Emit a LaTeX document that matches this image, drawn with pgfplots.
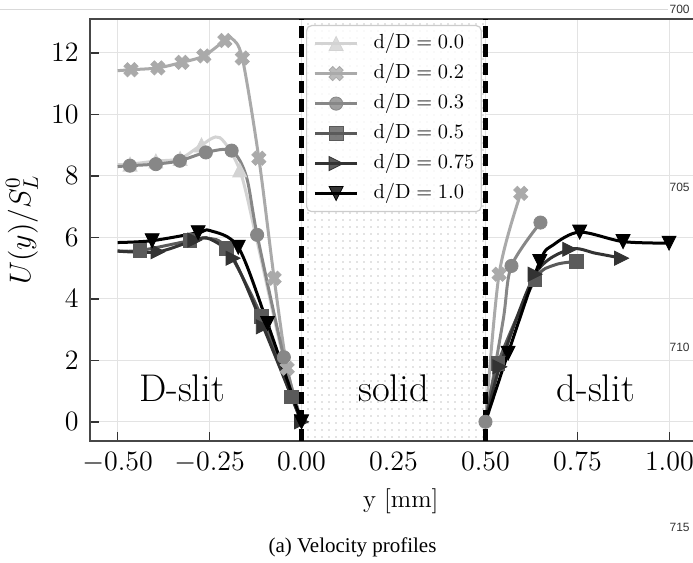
\RequirePackage{fix-cm}
\documentclass[border=0pt]{standalone}
\usepackage{fontspec}
\usepackage{pgfplots}
\pgfplotsset{compat=1.18}
\usetikzlibrary{patterns.meta}
\newfontfamily\libsans{Liberation Sans}
\newfontfamily\libserif{Liberation Serif}

\definecolor{c0}{HTML}{D3D3D3}
\definecolor{c1}{HTML}{AAAAAA}
\definecolor{c2}{HTML}{878787}
\definecolor{c3}{HTML}{5A5A5A}
\definecolor{c4}{HTML}{333333}
\definecolor{c5}{HTML}{000000}

\tikzdeclarepattern{
  name=mydots,
  type=uncolored,
  bounding box={(-1.75pt,-1.75pt) and (1.75pt,1.75pt)},
  tile size={(3.5pt,3.5pt)},
  code={\fill (0pt,0pt) circle (0.4pt);}
}

\pgfdeclareplotmark{mtri}{%
  \pgfpathmoveto{\pgfqpoint{0pt}{\pgfplotmarksize}}%
  \pgfpathlineto{\pgfqpoint{-\pgfplotmarksize}{-\pgfplotmarksize}}%
  \pgfpathlineto{\pgfqpoint{\pgfplotmarksize}{-\pgfplotmarksize}}%
  \pgfpathclose
  \pgfusepathqfillstroke}

\pgfdeclareplotmark{Xf}{%
  \pgfpathmoveto{\pgfqpoint{-0.955\pgfplotmarksize}{0.46\pgfplotmarksize}}%
  \pgfpathlineto{\pgfqpoint{-0.46\pgfplotmarksize}{0.955\pgfplotmarksize}}%
  \pgfpathlineto{\pgfqpoint{0pt}{0.495\pgfplotmarksize}}%
  \pgfpathlineto{\pgfqpoint{0.46\pgfplotmarksize}{0.955\pgfplotmarksize}}%
  \pgfpathlineto{\pgfqpoint{0.955\pgfplotmarksize}{0.46\pgfplotmarksize}}%
  \pgfpathlineto{\pgfqpoint{0.495\pgfplotmarksize}{0pt}}%
  \pgfpathlineto{\pgfqpoint{0.955\pgfplotmarksize}{-0.46\pgfplotmarksize}}%
  \pgfpathlineto{\pgfqpoint{0.46\pgfplotmarksize}{-0.955\pgfplotmarksize}}%
  \pgfpathlineto{\pgfqpoint{0pt}{-0.495\pgfplotmarksize}}%
  \pgfpathlineto{\pgfqpoint{-0.46\pgfplotmarksize}{-0.955\pgfplotmarksize}}%
  \pgfpathlineto{\pgfqpoint{-0.955\pgfplotmarksize}{-0.46\pgfplotmarksize}}%
  \pgfpathlineto{\pgfqpoint{-0.495\pgfplotmarksize}{0pt}}%
  \pgfpathclose
  \pgfusepathqfillstroke}

\pgfplotsset{
  ln/.style={#1, line width=1.5pt, smooth, tension=0.5, forget plot},
  mk/.style={#1, only marks, forget plot},
  m0/.style={mark=mtri, mark size=3.5pt, mark options={solid, fill=c0, draw=c0, line width=0.4pt}},
  m1/.style={mark=Xf, mark size=3.7pt, mark options={solid, fill=c1, draw=c1, line width=0.4pt}},
  m2/.style={mark=*, mark size=3.3pt, mark options={solid, fill=c2, draw=c2, line width=0.4pt}},
  m3/.style={mark=square*, mark size=3.4pt, mark options={solid, fill=c3, draw=c3, line width=0.4pt}},
  m4/.style={mark=mtri, mark size=3.5pt, mark options={solid, rotate=-90, fill=c4, draw=c4, line width=0.4pt}},
  m5/.style={mark=mtri, mark size=3.5pt, mark options={solid, rotate=180, fill=c5, draw=c5, line width=0.4pt}},
}

\begin{document}
\begin{tikzpicture}
\useasboundingbox (0,0) rectangle (346.5pt,281.5pt);
\begin{axis}[
  at={(45pt,61pt)}, anchor=south west,
  scale only axis, width=303.5pt, height=211pt,
  xmin=-0.575, xmax=1.075, ymin=-0.624, ymax=13.1,
  xtick={-0.5,-0.25,0,0.25,0.5,0.75,1},
  xticklabels={$-0.50$,$-0.25$,$0.00$,$0.25$,$0.50$,$0.75$,$1.00$},
  ytick={0,2,4,6,8,10,12},
  xtick pos=left, ytick pos=left,
  tick align=inside, major tick length=4.3pt,
  tick style={draw=black!80, line width=0.75pt},
  axis line style={draw=black!72, line width=1pt},
  grid=major, major grid style={draw=black!11, line width=0.6pt},
  xticklabel style={font=\fontsize{14}{16}\selectfont, inner sep=0pt, yshift=-5.5pt},
  yticklabel style={font=\fontsize{14}{16}\selectfont, inner sep=0pt, xshift=-5.5pt},
  xlabel={y [mm]},
  xlabel style={at={(axis description cs:0.512,-0.142)}, anchor=center, font=\fontsize{12.5}{14}\selectfont},
  ylabel={$U(y)/S_L^0$},
  ylabel style={at={(axis description cs:-0.112,0.5)}, anchor=center, font=\fontsize{15}{17}\selectfont},
  legend image code/.code={\draw[mark repeat=2,mark phase=2,#1] plot coordinates {(0pt,0pt) (10.5pt,0pt) (21pt,0pt)};},
  legend cell align=left,
  legend style={at={(0.3559,0.9858)}, anchor=north west,
    draw=black!20, line width=0.6pt, rounded corners=2.5pt,
    fill=white, fill opacity=0.8, text opacity=1,
    inner xsep=3.5pt, inner ysep=4pt, row sep=5pt, column sep=7.5pt,
    font=\fontsize{10.2}{12}\selectfont,
    nodes={inner sep=0pt, text height=7.5pt, text depth=2.5pt}},
]
% d/D = 0.0
\addplot[ln=c0] coordinates {(-0.5,8.36) (-0.466,8.38) (-0.396,8.48) (-0.33,8.56) (-0.272,9.0) (-0.222,9.24) (-0.168,8.19) (-0.125,6.1) (-0.05,2.1) (0,0)};
\addplot[mk=c0, m0] coordinates {(-0.466,8.38) (-0.396,8.48) (-0.33,8.56) (-0.272,9.0) (-0.168,8.19)};
% d/D = 0.2
\addplot[ln=c1] coordinates {(-0.5,11.42) (-0.4636,11.45) (-0.3905,11.51) (-0.325,11.69) (-0.2655,11.90) (-0.2084,12.40) (-0.19,12.47) (-0.161,11.83) (-0.116,8.57) (-0.0745,4.67) (-0.039,1.74) (0,0)};
\addplot[mk=c1, m1] coordinates {(-0.4636,11.45) (-0.3905,11.51) (-0.325,11.69) (-0.2655,11.90) (-0.2084,12.40) (-0.161,11.83) (-0.116,8.57) (-0.0745,4.67) (-0.039,1.74)};
\addplot[ln=c1] coordinates {(0.5,0) (0.537,4.80) (0.596,7.43)};
\addplot[mk=c1, m1] coordinates {(0.537,4.80) (0.596,7.43)};
% d/D = 0.3
\addplot[ln=c2] coordinates {(-0.5,8.30) (-0.4666,8.33) (-0.396,8.38) (-0.3307,8.49) (-0.26,8.76) (-0.19,8.82) (-0.15,7.98) (-0.1207,6.08) (-0.048,2.10) (0,0)};
\addplot[mk=c2, m2] coordinates {(-0.4666,8.33) (-0.396,8.38) (-0.3307,8.49) (-0.26,8.76) (-0.19,8.82) (-0.1207,6.08) (-0.048,2.10)};
\addplot[ln=c2] coordinates {(0.5,0) (0.548,3.3) (0.5707,5.07) (0.6495,6.48)};
\addplot[mk=c2, m2] coordinates {(0.5,0) (0.5707,5.07) (0.6495,6.48)};
% d/D = 0.5
\addplot[ln=c3] coordinates {(-0.5,5.56) (-0.439,5.57) (-0.3035,5.89) (-0.255,5.97) (-0.2038,5.64) (-0.1087,3.42) (-0.027,0.81) (0,0)};
\addplot[mk=c3, m3] coordinates {(-0.439,5.57) (-0.3035,5.89) (-0.2038,5.64) (-0.1087,3.42) (-0.027,0.81)};
\addplot[ln=c3] coordinates {(0.5,0) (0.534,1.90) (0.634,4.61) (0.688,5.10) (0.747,5.21)};
\addplot[mk=c3, m3] coordinates {(0.534,1.90) (0.634,4.61) (0.747,5.21)};
% d/D = 0.75
\addplot[ln=c4] coordinates {(-0.5,5.55) (-0.39,5.53) (-0.29,5.91) (-0.25,5.95) (-0.186,5.32) (-0.104,3.09) (0,0)};
\addplot[mk=c4, m4] coordinates {(-0.39,5.53) (-0.29,5.91) (-0.186,5.32) (-0.104,3.09) (0,0)};
\addplot[ln=c4] coordinates {(0.5,0) (0.539,1.79) (0.635,4.8) (0.729,5.61) (0.80,5.48) (0.87,5.32)};
\addplot[mk=c4, m4] coordinates {(0.539,1.79) (0.635,4.8) (0.729,5.61) (0.87,5.32)};
% d/D = 1.0
\addplot[ln=c5] coordinates {(-0.5,5.83) (-0.406,5.89) (-0.281,6.15) (-0.249,6.22) (-0.172,5.68) (-0.0924,3.20) (0,0)};
\addplot[mk=c5, m5] coordinates {(-0.406,5.89) (-0.281,6.15) (-0.172,5.68) (-0.0924,3.20) (0,0)};
\addplot[ln=c5] coordinates {(0.5,0) (0.5615,2.23) (0.6476,5.21) (0.684,5.75) (0.756,6.17) (0.874,5.86) (0.999,5.81)};
\addplot[mk=c5, m5] coordinates {(0.5615,2.23) (0.6476,5.21) (0.756,6.17) (0.874,5.86) (0.999,5.81)};

% solid region
\fill[white] (axis cs:0,-0.585) rectangle (axis cs:0.5,13.065);
\fill[pattern=mydots, pattern color=black!22] (axis cs:0,-0.585) rectangle (axis cs:0.5,13.065);
\draw[black, line width=2.5pt, dash pattern=on 6.1pt off 3.05pt] (axis cs:0,-0.624) -- (axis cs:0,13.1);
\draw[black, line width=2.5pt, dash pattern=on 6.1pt off 3.05pt] (axis cs:0.5,-0.624) -- (axis cs:0.5,13.1);

\node[anchor=base, inner sep=0pt, font=\fontsize{19.3}{21}\selectfont] at (axis cs:-0.325,0.65) {D-slit};
\node[anchor=base, inner sep=0pt, font=\fontsize{19.3}{21}\selectfont] at (axis cs:0.25,0.65) {solid};
\node[anchor=base, inner sep=0pt, font=\fontsize{19.3}{21}\selectfont] at (axis cs:0.80,0.65) {d-slit};

\addlegendimage{color=c0, line width=1.5pt, m0}\addlegendentry{$\mathrm{d/D} = 0.0$}
\addlegendimage{color=c1, line width=1.5pt, m1}\addlegendentry{$\mathrm{d/D} = 0.2$}
\addlegendimage{color=c2, line width=1.5pt, m2}\addlegendentry{$\mathrm{d/D} = 0.3$}
\addlegendimage{color=c3, line width=1.5pt, m3}\addlegendentry{$\mathrm{d/D} = 0.5$}
\addlegendimage{color=c4, line width=1.5pt, m4}\addlegendentry{$\mathrm{d/D} = 0.75$}
\addlegendimage{color=c5, line width=1.5pt, m5}\addlegendentry{$\mathrm{d/D} = 1.0$}
\end{axis}
\draw[black!15, line width=0.5pt] (0pt,276.85pt) -- (334pt,276.85pt);
\node[anchor=east, inner sep=0pt, text=black!80, font=\libsans\fontsize{6}{7}\selectfont] at (345pt,276.9pt) {700};
\node[anchor=east, inner sep=0pt, text=black!80, font=\libsans\fontsize{6}{7}\selectfont] at (345pt,187.75pt) {705};
\node[anchor=east, inner sep=0pt, text=black!80, font=\libsans\fontsize{6}{7}\selectfont] at (345pt,108pt) {710};
\node[anchor=east, inner sep=0pt, text=black!80, font=\libsans\fontsize{6}{7}\selectfont] at (345pt,18pt) {715};
\node[anchor=base, inner sep=0pt, font=\libserif\fontsize{10.5}{12}\selectfont] at (176.25pt,5.25pt) {(a) Velocity profiles};
\end{tikzpicture}
\end{document}
